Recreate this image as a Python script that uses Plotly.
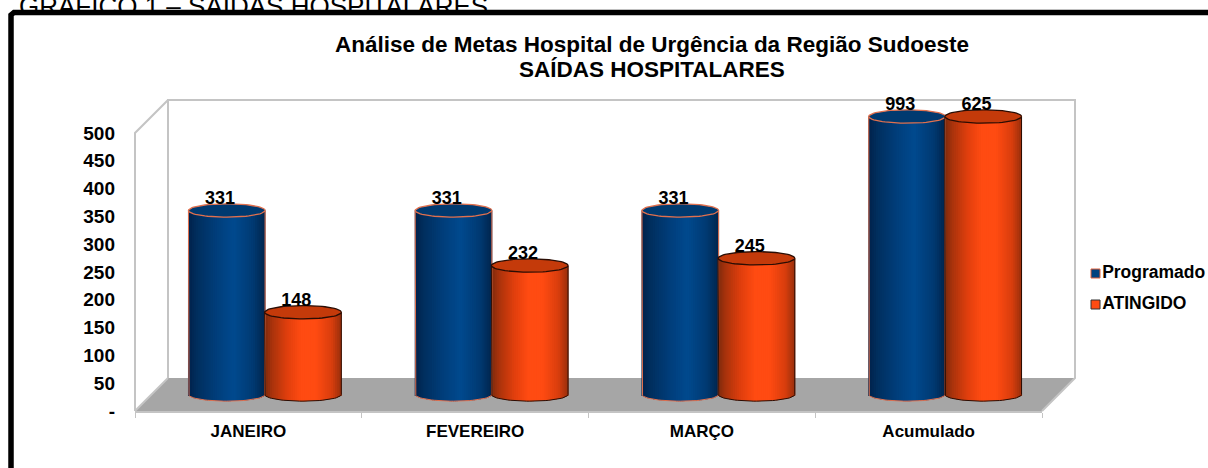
import numpy as np
import plotly.graph_objects as go

# ---- data ----
categories = ["JANEIRO", "FEVEREIRO", "MARÇO", "Acumulado"]
programado = [331, 331, 331, 993]
atingido = [148, 232, 245, 625]
y_ticks = [0, 50, 100, 150, 200, 250, 300, 350, 400, 450, 500]
y_tick_labels = ["-", "50", "100", "150", "200", "250", "300", "350", "400", "450", "500"]
series_names = ["Programado", "ATINGIDO"]
title_lines = ["Análise de Metas Hospital de Urgência da Região Sudoeste", "SAÍDAS HOSPITALARES"]
page_heading = "GRÁFICO 1 – SAÍDAS HOSPITALARES"

# ---- layout constants (pixels of the 1208x468 page) ----
W, H = 1208, 468
FRONT_L, FRONT_R, FRONT_T, FRONT_B = 135, 1042, 133, 411
DEPTH = 33
Y_MAX = 500
BAR_SHIFT = 16.5
FONT = "Liberation Sans, Arial, sans-serif"
GREY = "#c4c4c4"
FLOOR = "#a6a6a6"


def px(x):
    return x / W


def py(y):
    return 1 - y / H


val_px = (FRONT_B - FRONT_T) / Y_MAX
low_val, high_val = -40, 570
plane_base = FRONT_B - BAR_SHIFT
plane_dom = [py(plane_base - low_val * val_px), py(plane_base - high_val * val_px)]

BAR_W = 0.338
OFFSET = 0.168
CAP = 12.0
N = 40

blue_stops = [(0, "#00214a"), (0.12, "#002f5f"), (0.38, "#003f7c"), (0.6, "#004a8f"), (0.85, "#003a72"), (1, "#00264f")]
orange_stops = [(0, "#7a2a0c"), (0.1, "#a8330c"), (0.3, "#e03f0e"), (0.48, "#ff4b12"), (0.68, "#ff4b12"), (0.88, "#d93e0e"), (1, "#9c300c")]


def ramp(stops, t):
    pos = [s[0] for s in stops]
    cols = [[int(s[1][i:i + 2], 16) for i in (1, 3, 5)] for s in stops]
    return "rgb(%d,%d,%d)" % tuple(np.interp(t, pos, [c[k] for c in cols]) for k in range(3))


def cylinder(values, offset, stops, edge, cap_fill):
    traces = []
    xs, tops, bases, cols = [], [], [], []
    for i, v in enumerate(values):
        top = min(v, Y_MAX)
        for k in range(N):
            t = (k + 0.5) / N
            u = 2 * t - 1
            arc = CAP * np.sqrt(1 - u * u)
            xs.append(i + offset + u * BAR_W / 2)
            bases.append(-arc)
            tops.append(top + arc)
            cols.append(ramp(stops, t))
    traces.append(go.Bar(x=xs, y=tops, base=bases, width=BAR_W / N * 1.5,
                         marker=dict(color=cols, line=dict(width=0)),
                         xaxis="x2", yaxis="y2", showlegend=False, hoverinfo="skip"))
    theta = np.linspace(0, 2 * np.pi, 73)
    half = np.linspace(np.pi, 2 * np.pi, 37)
    for i, v in enumerate(values):
        top = min(v, Y_MAX)
        cx = i + offset
        ox = np.r_[cx - BAR_W / 2, cx + BAR_W / 2 * np.cos(half), cx + BAR_W / 2]
        oy = np.r_[top, CAP * np.sin(half), top]
        traces.append(go.Scatter(x=ox, y=oy, mode="lines", line=dict(color=edge, width=1),
                                 xaxis="x2", yaxis="y2", showlegend=False, hoverinfo="skip", cliponaxis=False))
        traces.append(go.Scatter(x=cx + BAR_W / 2 * np.cos(theta), y=top + CAP * np.sin(theta),
                                 mode="lines", fill="toself", fillcolor=cap_fill,
                                 line=dict(color=edge, width=1.3),
                                 xaxis="x2", yaxis="y2", showlegend=False, hoverinfo="skip", cliponaxis=False))
    return traces


fig = go.Figure()

fig.add_trace(go.Scatter(x=[None], y=[None], mode="markers", showlegend=False, hoverinfo="skip"))

for tr in cylinder(programado, -OFFSET, blue_stops, "#e0704e", "#003a70"):
    fig.add_trace(tr)
for tr in cylinder(atingido, OFFSET, orange_stops, "#2a0d04", "#c43a0a"):
    fig.add_trace(tr)

label_dx = -0.03
for values, off in ((programado, -OFFSET), (atingido, OFFSET)):
    fig.add_trace(go.Scatter(
        x=[i + off + label_dx for i in range(len(values))],
        y=[min(v, Y_MAX) + 19 for v in values],
        text=[str(v) for v in values], mode="text", textposition="middle center",
        textfont=dict(family=FONT, size=18, color="#000000", weight="bold"),
        xaxis="x2", yaxis="y2", showlegend=False, hoverinfo="skip", cliponaxis=False))

legend_rows = [1, 0]
legend_colors = ["#00427f", "#ff4b12"]
legend_edges = ["#e0603a", "#333333"]
fig.add_trace(go.Scatter(x=[0, 0], y=legend_rows, mode="markers+text", text=series_names,
                         textposition="middle right",
                         textfont=dict(family=FONT, size=17.5, color="#000000", weight="bold"),
                         marker=dict(symbol="square", size=9, color=legend_colors,
                                     line=dict(color=legend_edges, width=1)),
                         xaxis="x3", yaxis="y3", showlegend=False, hoverinfo="skip", cliponaxis=False))

BK_L, BK_R, BK_T, BK_B = FRONT_L + DEPTH, FRONT_R + DEPTH, FRONT_T - DEPTH, FRONT_B - DEPTH


def poly(points):
    return "M " + " L ".join(f"{px(x):.5f},{py(y):.5f}" for x, y in points) + " Z"


def line(points, color=GREY, width=2):
    return dict(type="path", xref="paper", yref="paper", layer="below", path=poly(points).replace(" Z", ""),
                line=dict(color=color, width=width), fillcolor="rgba(0,0,0,0)")


shapes = [
    dict(type="path", xref="paper", yref="paper", layer="below",
         path=poly([(FRONT_L, FRONT_B), (BK_L, BK_B), (BK_R, BK_B), (FRONT_R, FRONT_B)]),
         fillcolor=FLOOR, line=dict(width=0)),
    line([(BK_L, BK_B), (BK_L, BK_T), (BK_R, BK_T), (BK_R, BK_B), (FRONT_R, FRONT_B)]),
    line([(FRONT_L, FRONT_B), (FRONT_L, FRONT_T), (BK_L, BK_T)]),
    line([(FRONT_L, FRONT_B), (BK_L, BK_B)]),
    line([(11, H + 10), (11, 15), (14, 12.5), (W + 10, 12.5)], color="#000000", width=5.5),
]

fig.update_layout(
    template="none",
    width=W, height=H, autosize=False,
    margin=dict(l=0, r=0, t=0, b=0),
    paper_bgcolor="#ffffff", plot_bgcolor="rgba(0,0,0,0)",
    barmode="overlay", showlegend=False,
    font=dict(family=FONT, color="#000000"),
    shapes=shapes,
    title=dict(text=page_heading, x=px(19), xanchor="left", xref="paper", y=py(15), yanchor="bottom", yref="container",
               font=dict(family=FONT, size=26, color="#000000")),
    xaxis=dict(domain=[px(FRONT_L), px(FRONT_R)], range=[-0.5, len(categories) - 0.5], automargin=False,
               tickvals=list(range(len(categories))), ticktext=categories, anchor="y",
               ticks="", showgrid=False, zeroline=False, showline=True, linecolor=GREY, linewidth=2,
               tickfont=dict(family=FONT, size=17, color="#000000", weight="bold"),
               ticklabelstandoff=4,
               minor=dict(tickvals=[i - 0.5 for i in range(len(categories) + 1)], ticks="outside",
                          ticklen=5, tickwidth=1, tickcolor=GREY, showgrid=False)),
    yaxis=dict(domain=[py(FRONT_B), py(FRONT_T)], range=[0, Y_MAX], anchor="x", automargin=False,
               tickvals=y_ticks, ticktext=y_tick_labels, ticks="", showgrid=False, zeroline=False,
               showline=False, ticklabelstandoff=19,
               tickfont=dict(family=FONT, size=19, color="#000000", weight="bold")),
    xaxis2=dict(domain=[px(FRONT_L + BAR_SHIFT), px(FRONT_R + BAR_SHIFT)], range=[-0.5, len(categories) - 0.5],
                anchor="y2", visible=False, automargin=False),
    yaxis2=dict(domain=plane_dom, range=[low_val, high_val], anchor="x2", visible=False, automargin=False),
    xaxis3=dict(domain=[px(1092), px(1099)], range=[-1, 1], anchor="y3", visible=False, automargin=False),
    yaxis3=dict(domain=[py(304.5), py(273.5)], range=[0, 1], anchor="x3", visible=False, automargin=False),
    annotations=[
        dict(text=title_lines[0], xref="paper", yref="paper", x=px(652), y=py(45), xanchor="center",
             yanchor="middle", showarrow=False, font=dict(family=FONT, size=22.5, color="#000000", weight="bold")),
        dict(text=title_lines[1], xref="paper", yref="paper", x=px(652), y=py(69), xanchor="center",
             yanchor="middle", showarrow=False, font=dict(family=FONT, size=22.5, color="#000000", weight="bold")),
    ],
)

fig.write_html("out.html", config=dict(displayModeBar=False),
               post_script="document.body.style.margin='0';")
